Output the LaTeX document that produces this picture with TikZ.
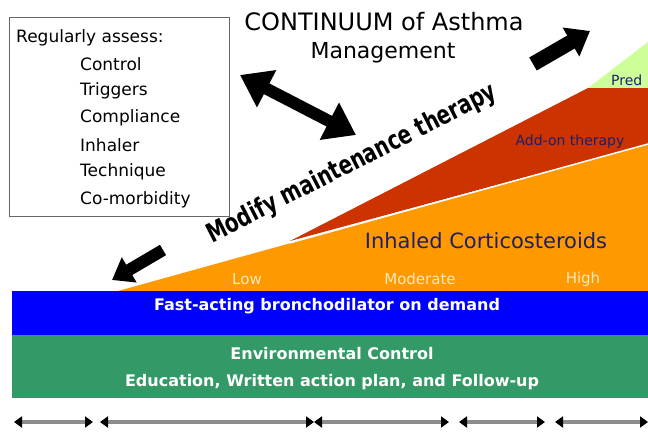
\documentclass[tikz,border=0pt]{standalone}
\usepackage{fontspec}
\setmainfont{DejaVu Sans}
\newfontfamily\condfont{DejaVu Sans Condensed}
\usetikzlibrary{arrows.meta}
\definecolor{ora}{HTML}{FF9900}
\definecolor{redd}{HTML}{CC3300}
\definecolor{lgreen}{HTML}{CCFF99}
\definecolor{bandblue}{HTML}{0000FF}
\definecolor{bandgreen}{HTML}{339966}
\definecolor{navy}{HTML}{1E1E6A}
\definecolor{pale}{HTML}{FFE8C0}
\definecolor{tlgray}{HTML}{8C8C8C}
\newcommand{\fsz}[1]{\fontsize{#1}{#1}\selectfont}
\begin{document}
\begin{tikzpicture}[x=1pt,y=-1pt,
  txt/.style={inner sep=0pt},
  boxitem/.style={txt,anchor=west,font=\fsz{17}},
  bandtxt/.style={txt,text=white,font=\bfseries\fsz{16}},
  leveltxt/.style={txt,text=pale,font=\fsz{15}},
  bigarr/.style={line width=#1,black},
  tline/.style={line width=3.5pt,tlgray,
     {Triangle[length=8pt,width=11pt,color=black]}-{Triangle[length=8pt,width=11pt,color=black]}}
]
\useasboundingbox (0,0) rectangle (648,436);
\begin{scope}
\clip (0,0) rectangle (648,436);
% therapy wedges
\fill[lgreen] (588,88) -- (648,42) -- (648,88) -- cycle;
\fill[redd] (290,241) -- (588,88) -- (648,88) -- (648,144) -- cycle;
\fill[ora] (118,291) -- (648,144) -- (648,291) -- cycle;
\draw[white,line width=1.5pt] (290,242.8) -- (648,144);
% bands
\node[fill=bandblue,minimum width=636pt,minimum height=44pt,anchor=north west,inner sep=0pt] (blueband) at (12,291) {};
\node[fill=bandgreen,minimum width=636pt,minimum height=63pt,anchor=north west,inner sep=0pt] (greenband) at (12,335) {};
% wedge labels
\node[txt,anchor=west,text=navy,font=\fsz{14}] (pred) at (611,80) {Pred};
\node[txt,text=navy,font=\fsz{14}] (addon) at (570,142) {Add-on therapy};
\node[txt,text=navy,font=\fsz{21}] (ics) at (486,241) {Inhaled Corticosteroids};
\node[leveltxt] (low) at (247,279) {Low};
\node[leveltxt] (mod) at (420,279) {Moderate};
\node[leveltxt] (high) at (583,279) {High};
% band labels
\node[bandtxt] (fast) at (327,306) {Fast-acting bronchodilator on demand};
\node[bandtxt] (env) at (332,354) {Environmental Control};
\node[bandtxt] (edu) at (332,382) {Education, Written action plan, and Follow-up};
\end{scope}
% assessment box
\node[draw=black!60,line width=1.2pt,minimum width=220pt,minimum height=199pt,anchor=north west,inner sep=0pt] (box) at (9,17) {};
\node[boxitem] (reg) at (16,38) {Regularly assess:};
\node[boxitem] (i1) at (80,64) {Control};
\node[boxitem] (i2) at (80,91) {Triggers};
\node[boxitem] (i3) at (80,118) {Compliance};
\node[boxitem] (i4) at (80,145) {Inhaler};
\node[boxitem] (i5) at (80,172) {Technique};
\node[boxitem] (i6) at (80,200) {Co-morbidity};
% title
\node[txt,font=\fsz{24}] (title1) at (384,22) {CONTINUUM of Asthma};
\node[txt,font=\fsz{22}] (title2) at (383,53) {Management};
% diagonal text
\node[txt,rotate=27,font=\condfont\bfseries\fsz{22}] (modify) at (352,164) {\scalebox{1}[1.2]{Modify maintenance therapy}};
% arrows
\coordinate (da1) at (240,75);
\coordinate (da2) at (356,135);
\draw[bigarr=12pt,{Triangle[length=30pt,width=40pt]}-{Triangle[length=30pt,width=40pt]}] (da1) -- (da2);
\coordinate (ur1) at (533,64);
\coordinate (ur2) at (590,31);
\draw[bigarr=15pt,-{Triangle[length=22pt,width=32pt]}] (ur1) -- (ur2);
\coordinate (ll1) at (163,250);
\coordinate (ll2) at (112,280);
\draw[bigarr=12pt,-{Triangle[length=20pt,width=28pt]}] (ll1) -- (ll2);
% timeline
\coordinate (t1a) at (14,422);  \coordinate (t1b) at (93,422);
\coordinate (t2a) at (100,422); \coordinate (t2b) at (314,422);
\coordinate (t3a) at (314,422); \coordinate (t3b) at (449,422);
\coordinate (t4a) at (459,422); \coordinate (t4b) at (545,422);
\coordinate (t5a) at (555,422); \coordinate (t5b) at (648,422);
\draw[tline] (t1a) -- (t1b);
\draw[tline] (t2a) -- (t2b);
\draw[tline] (t3a) -- (t3b);
\draw[tline] (t4a) -- (t4b);
\draw[tline] (t5a) -- (t5b);
\end{tikzpicture}
\end{document}
